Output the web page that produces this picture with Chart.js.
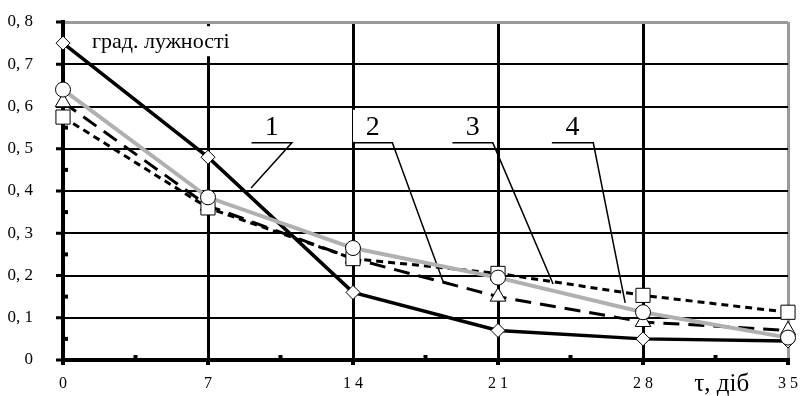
<!DOCTYPE html>
<html lang="uk">
<head>
<meta charset="UTF-8">
<title>Градієнт лужності</title>
<script src="https://cdn.jsdelivr.net/npm/chart.js"></script>
<style>
  html, body { margin: 0; padding: 0; background: #fff; }
  #wrap { width: 802px; height: 396px; position: relative; }
  #fontwarm { position: absolute; left: 0; top: 0; visibility: hidden; font-family: 'Liberation Serif'; }
</style>
</head>
<body>
<div id="wrap"><canvas id="chart" width="802" height="396"></canvas></div>
<div id="fontwarm">град. лужності τ, діб 0,8</div>
<script>
// days of storage
const days = [0, 7, 14, 21, 28, 35];
// alkalinity gradient, curves 1..4
const series1 = [0.75, 0.48, 0.16, 0.07, 0.05, 0.045];
const series2 = [0.61, 0.365, 0.24, 0.15, 0.09, 0.07];
const series3 = [0.575, 0.36, 0.24, 0.205, 0.153, 0.113];
const series4 = [0.64, 0.385, 0.265, 0.195, 0.113, 0.053];
const yTicks = [0, 0.1, 0.2, 0.3, 0.4, 0.5, 0.6, 0.7, 0.8];
const xTicks = [0, 7, 14, 21, 28, 35];
const curveNames = ['1', '2', '3', '4'];

const FONT = "'Liberation Serif', 'DejaVu Serif', serif";

// callout labels: underline span and leader end (in data units)
const callouts = [
    { name: curveNames[0], x0: 9.1, x1: 11.05, y: 0.514, tx: 9.08, ty: 0.407 },
    { name: curveNames[1], x0: 14.0, x1: 15.9, y: 0.514, tx: 18.35, ty: 0.185 },
    { name: curveNames[2], x0: 18.8, x1: 20.75, y: 0.514, tx: 23.66, ty: 0.18 },
    { name: curveNames[3], x0: 23.6, x1: 25.6, y: 0.514, tx: 27.14, ty: 0.135 }
];

const pts = arr => days.map((d, i) => ({ x: d, y: arr[i] }));

const annotations = {
    id: 'annotations',
    beforeDatasetsDraw(chart) {
        const { ctx, chartArea, scales: { x, y } } = chart;
        ctx.save();
        // title box
        ctx.fillStyle = '#fff';
        ctx.fillRect(x.getPixelForValue(1.2), y.getPixelForValue(0.79), x.getPixelForValue(8.9) - x.getPixelForValue(1.2), 30);
        ctx.fillStyle = '#000';
        ctx.font = '22px ' + FONT;
        ctx.textBaseline = 'middle';
        ctx.textAlign = 'left';
        ctx.fillText('град. лужності', x.getPixelForValue(1.4), y.getPixelForValue(0.752));

        callouts.forEach(c => {
            const l = x.getPixelForValue(c.x0);
            const r = x.getPixelForValue(c.x1);
            const uy = y.getPixelForValue(c.y);
            ctx.fillStyle = '#fff';
            ctx.fillRect(l, uy - 33, r - l, 32);
            ctx.fillStyle = '#000';
            ctx.font = '28px ' + FONT;
            ctx.textAlign = 'center';
            ctx.fillText(c.name, (l + r) / 2, uy - 15);
            ctx.strokeStyle = '#000';
            ctx.lineWidth = 1.5;
            ctx.beginPath();
            ctx.moveTo(l, uy);
            ctx.lineTo(r, uy);
            ctx.lineTo(x.getPixelForValue(c.tx), y.getPixelForValue(c.ty));
            ctx.stroke();
        });

        // major tick marks
        ctx.fillStyle = '#000';
        yTicks.forEach(v => ctx.fillRect(chartArea.left - 7, y.getPixelForValue(v) - 1.5, 7, 3));
        xTicks.forEach(v => ctx.fillRect(x.getPixelForValue(v) - 2, chartArea.bottom, 4, 5));
        // minor ticks
        for (let v = 0.05; v < 0.8; v += 0.1) {
            ctx.fillRect(chartArea.left, y.getPixelForValue(v) - 2, 5, 4);
        }
        for (let d = 3.5; d < 35; d += 7) {
            ctx.fillRect(x.getPixelForValue(d) - 2, chartArea.bottom - 5, 4, 5);
        }
        ctx.restore();
    },
    afterDraw(chart) {
        const { ctx, chartArea, scales: { x } } = chart;
        ctx.save();
        // axis title
        ctx.fillStyle = '#000';
        ctx.font = '25px ' + FONT;
        ctx.textAlign = 'center';
        ctx.textBaseline = 'middle';
        ctx.fillText('τ, діб', x.getPixelForValue(31.8), chartArea.bottom + 24);
        ctx.restore();
    }
};

const baseDs = {
    borderColor: '#000',
    pointBackgroundColor: '#fff',
    pointBorderColor: '#000',
    pointBorderWidth: 1,
    fill: false,
    tension: 0,
    clip: false
};

const chart = new Chart(document.getElementById('chart'), {
    type: 'line',
    data: {
        datasets: [
            { ...baseDs, label: curveNames[3], data: pts(series4), borderColor: '#b0b0b0', borderWidth: 4,
              pointStyle: 'circle', pointRadius: 7.5 },
            { ...baseDs, label: curveNames[2], data: pts(series3), borderWidth: 3, borderDash: [7, 5],
              pointStyle: 'rect', pointRadius: 10 },
            { ...baseDs, label: curveNames[1], data: pts(series2), borderWidth: 3, borderDash: [16, 9],
              pointStyle: 'triangle', pointRadius: 9 },
            { ...baseDs, label: curveNames[0], data: pts(series1), borderWidth: 3.5,
              pointStyle: 'rectRot', pointRadius: 7 }
        ]
    },
    options: {
        responsive: false,
        devicePixelRatio: 1,
        animation: false,
        layout: { padding: { top: 22, right: 14, left: 0, bottom: 0 } },
        plugins: { legend: { display: false }, tooltip: { enabled: false } },
        scales: {
            x: {
                type: 'linear', min: 0, max: 35,
                afterBuildTicks: s => { s.ticks = xTicks.map(v => ({ value: v })); },
                afterFit: s => { s.height = 36; },
                grid: {
                    color: c => (c.tick && c.tick.value === 35) ? '#9a9a9a' : '#000',
                    lineWidth: 3, drawTicks: true, tickLength: 13, tickColor: 'rgba(0,0,0,0)'
                },
                border: { display: true, color: '#000', width: 4 },
                ticks: {
                    color: '#000', padding: 1, maxRotation: 0,
                    font: { family: FONT, size: 16 },
                    callback: v => String(v).split('').join(' ')
                }
            },
            y: {
                min: 0, max: 0.8,
                afterBuildTicks: s => { s.ticks = yTicks.map(v => ({ value: v })); },
                afterFit: s => { s.width = 63; },
                grid: {
                    color: c => (c.tick && Math.abs(c.tick.value - 0.8) < 1e-6) ? '#9a9a9a' : '#000',
                    lineWidth: c => (c.tick && Math.abs(c.tick.value - 0.8) < 1e-6) ? 3 : 2,
                    drawTicks: true, tickLength: 26, tickColor: 'rgba(0,0,0,0)'
                },
                border: { display: true, color: '#000', width: 4 },
                ticks: {
                    color: '#000', padding: 4,
                    font: { family: FONT, size: 17 },
                    callback: v => v === 0 ? '0' : v.toFixed(1).replace('.', ', ')
                }
            }
        }
    },
    plugins: [annotations]
});
if (document.fonts && document.fonts.ready) {
    document.fonts.ready.then(() => chart.update());
}
</script>
</body>
</html>
